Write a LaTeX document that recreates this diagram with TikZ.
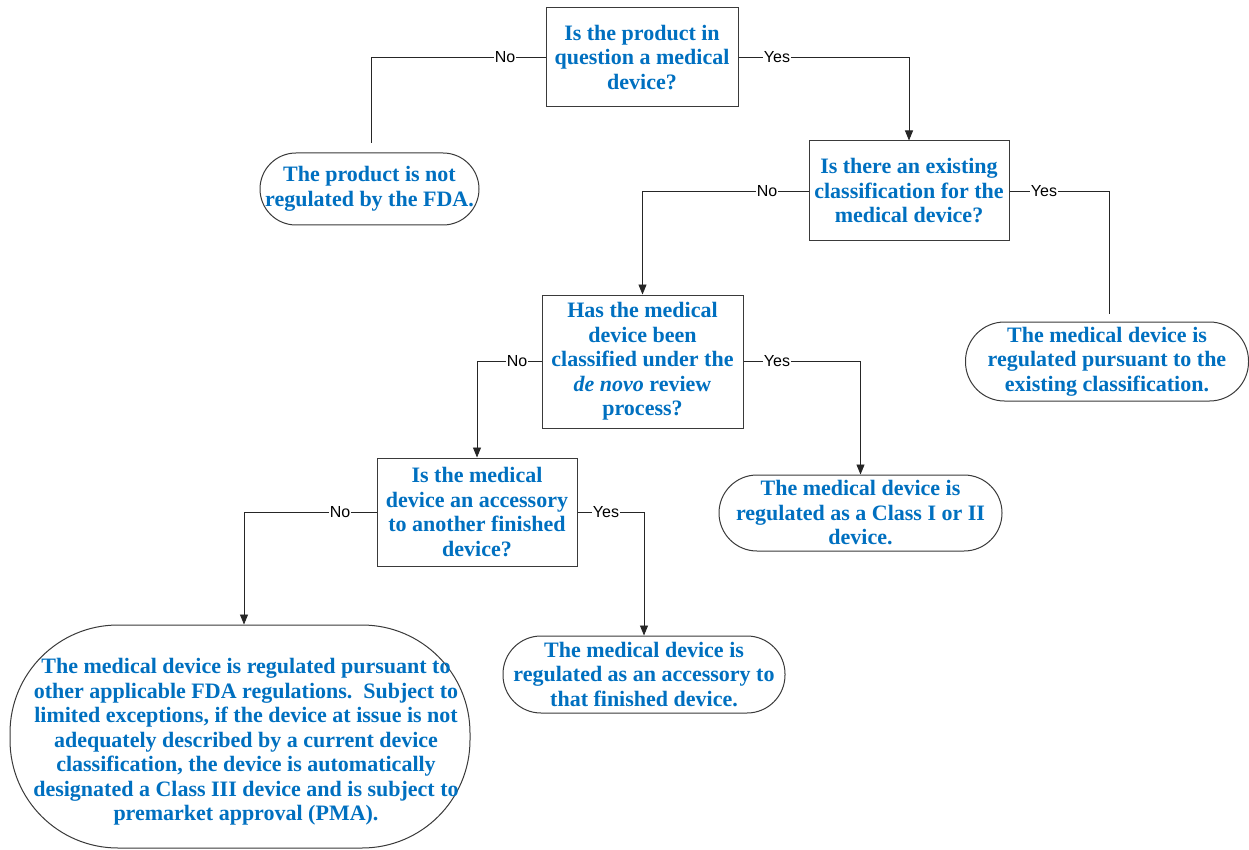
\documentclass[tikz,border=0pt]{standalone}
\usepackage{fontspec}
\setmainfont{Liberation Serif}
\newfontfamily\labfont{Liberation Sans}
\usetikzlibrary{arrows.meta}
\definecolor{txtblue}{HTML}{0070C0}
\definecolor{edge}{HTML}{3A3A3A}
\begin{document}
\begin{tikzpicture}[x=1pt,y=-1pt,
  txt/.style={text=txtblue,font=\fontsize{22}{24.5}\selectfont\bfseries,align=center,inner sep=0pt},
  qbox/.style={txt,draw=edge,line width=1pt,minimum width=#1},
  term/.style={txt,draw=edge,line width=1pt},
  lab/.style={font=\labfont\fontsize{16}{18}\selectfont,fill=white,inner sep=1pt,text=black},
  conn/.style={draw=black!85,line width=0.9pt},
  arr/.style={conn,-{Triangle[length=10pt,width=8pt]}}]
\useasboundingbox (0,0) rectangle (1249,850);
\fill[white] (0,0) rectangle (1249,850);

% question boxes
\node[qbox=192pt,minimum height=99pt] (q1) at (642,57.5) {Is the product in\\question a medical\\device?};
\node[qbox=200pt,minimum height=100pt] (q2) at (909,191) {Is there an existing\\classification for the\\medical device?};
\node[qbox=201pt,minimum height=133pt] (q3) at (642.5,361.5) {Has the medical\\device been\\classified under the\\\textit{de novo} review\\process?};
\node[qbox=200pt,minimum height=108pt] (q4) at (477,512) {Is the medical\\device an accessory\\to another finished\\device?};

% terminals
\node[term,minimum width=219pt,minimum height=72pt,rounded corners=36pt] (t1) at (369.5,189) {The product is not\\regulated by the FDA.};
\node[term,minimum width=283pt,minimum height=79pt,rounded corners=39pt] (t2) at (1107,361.5) {The medical device is\\regulated pursuant to the\\existing classification.};
\node[term,minimum width=283pt,minimum height=76pt,rounded corners=38pt] (t3) at (860.5,513) {The medical device is\\regulated as a Class I or II\\device.};
\node[term,minimum width=282pt,minimum height=77pt,rounded corners=38pt] (t4) at (644,674.5) {The medical device is\\regulated as an accessory to\\that finished device.};
\node[term,minimum width=460pt,minimum height=223pt,rounded corners=108pt] (t5) at (240,736.5) {};
\node[txt] (t5x) at (246,742) {The medical device is regulated pursuant to\\other applicable FDA regulations.\ \ Subject to\\limited exceptions, if the device at issue is not\\adequately described by a current device\\classification, the device is automatically\\designated a Class III device and is subject to\\premarket approval (PMA).};

% free ends
\coordinate (e1) at (371,143);
\coordinate (e2) at (1109,314);

% connectors
\draw[conn] (q1.west) -| (e1);
\draw[arr] (q1.east) -| (q2.north);
\draw[conn] (q2.east) -| (e2);
\draw[arr] (q2.west) -| (q3.north);
\draw[arr] (q3.east) -| (t3.north);
\draw[arr] (q3.west) -| (q4.north);
\draw[arr] (q4.east) -| (t4.north);
\draw[arr] (q4.west) -| (t5.north -| 244,0);

% labels
\node[lab] (l1) at (505,57.5) {No};
\node[lab] (l2) at (777,57.5) {Yes};
\node[lab] (l3) at (767,191) {No};
\node[lab] (l4) at (1044,191) {Yes};
\node[lab] (l5) at (517,361.5) {No};
\node[lab] (l6) at (777,361.5) {Yes};
\node[lab] (l7) at (340,512) {No};
\node[lab] (l8) at (606,512) {Yes};
\end{tikzpicture}
\end{document}
